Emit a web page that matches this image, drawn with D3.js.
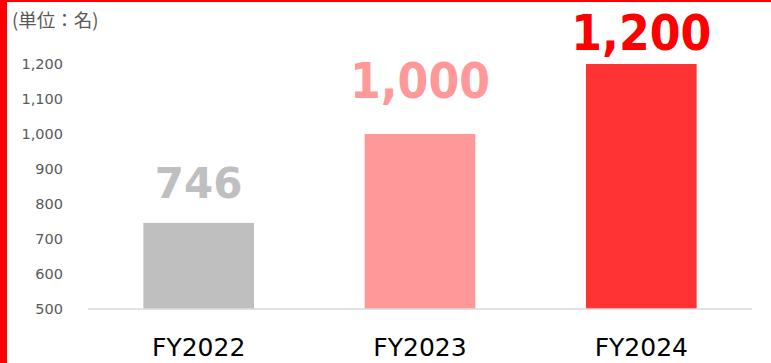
<!DOCTYPE html>
<html>
<head>
<meta charset="utf-8">
<script src="https://cdn.jsdelivr.net/npm/d3@7"></script>
<style>
  html, body { margin: 0; padding: 0; background: #fff; }
  svg { display: block; }
</style>
</head>
<body>
<svg id="chart" width="771" height="363"></svg>
<script>
// Headcount by fiscal year
const categories = ["FY2022", "FY2023", "FY2024"];
const values = [746, 1000, 1200];
const tickValues = [500, 600, 700, 800, 900, 1000, 1100, 1200];
const unitLabel = "(単位：名)";

// Per-bar styling
const barColors = ["#BFBFBF", "#FF9999", "#FF3333"];
const labelColors = ["#BFBFBF", "#FF9999", "#FF0000"];
const labelSizes = [42, 49, 49];
const labelWidths = [null, 140, 140];
const labelGaps = [25, 36, 14];

const W = 771, H = 363;
const margin = { left: 88, right: 19, top: 64, bottom: 54 };

const svg = d3.select("#chart");

// Frame accents
svg.append("rect").attr("x", 0).attr("y", 0).attr("width", 7).attr("height", H).attr("fill", "#FF0000");
svg.append("rect").attr("x", 0).attr("y", 0).attr("width", W).attr("height", 2).attr("fill", "#FF0000");

const x = d3.scaleBand()
  .domain(categories)
  .range([margin.left, W - margin.right])
  .paddingInner(0.5)
  .paddingOuter(0.25);

const y = d3.scaleLinear()
  .domain([500, 1200])
  .range([H - margin.bottom, margin.top]);

// Y axis labels (no line, no ticks)
const yAxis = d3.axisLeft(y)
  .tickValues(tickValues)
  .tickFormat(d3.format(","))
  .tickSize(0)
  .tickPadding(0);

const yg = svg.append("g")
  .attr("transform", `translate(63,0)`)
  .call(yAxis);
yg.select(".domain").remove();
yg.selectAll("text")
  .attr("font-family", "DejaVu Sans, sans-serif")
  .attr("font-size", 14.5)
  .attr("fill", "#595959");

// Bars
svg.append("g").selectAll("rect")
  .data(values)
  .join("rect")
  .attr("x", (d, i) => x(categories[i]))
  .attr("y", d => y(d))
  .attr("width", x.bandwidth())
  .attr("height", d => y(500) - y(d))
  .attr("fill", (d, i) => barColors[i]);

// Baseline
svg.append("line")
  .attr("x1", margin.left).attr("x2", W - margin.right)
  .attr("y1", y(500)).attr("y2", y(500))
  .attr("stroke", "#D9D9D9")
  .attr("stroke-width", 1.5);

// X axis labels
const xAxis = d3.axisBottom(x).tickSize(0).tickPadding(0);
const xg = svg.append("g")
  .attr("transform", `translate(0,${y(500)})`)
  .call(xAxis);
xg.select(".domain").remove();
xg.selectAll("text")
  .attr("font-family", "DejaVu Sans, sans-serif")
  .attr("font-size", 25)
  .attr("fill", "#000")
  .attr("dy", 0)
  .attr("y", 47);

// Value labels
const labels = svg.append("g").selectAll("text")
  .data(values)
  .join("text")
  .attr("x", (d, i) => x(categories[i]) + x.bandwidth() / 2)
  .attr("y", (d, i) => y(d) - labelGaps[i])
  .attr("text-anchor", "middle")
  .attr("font-family", "DejaVu Sans, sans-serif")
  .attr("font-weight", "bold")
  .attr("font-size", (d, i) => labelSizes[i])
  .attr("fill", (d, i) => labelColors[i])
  .text(d => d3.format(",")(d));
labels.filter((d, i) => labelWidths[i] != null)
  .attr("textLength", (d, i, n) => labelWidths[values.indexOf(d)])
  .attr("lengthAdjust", "spacingAndGlyphs");

// Unit note
svg.append("text")
  .attr("x", 12)
  .attr("y", 27)
  .attr("font-family", "Noto Sans CJK JP, sans-serif")
  .attr("font-size", 18.5)
  .attr("fill", "#595959")
  .text(unitLabel);
</script>
</body>
</html>
